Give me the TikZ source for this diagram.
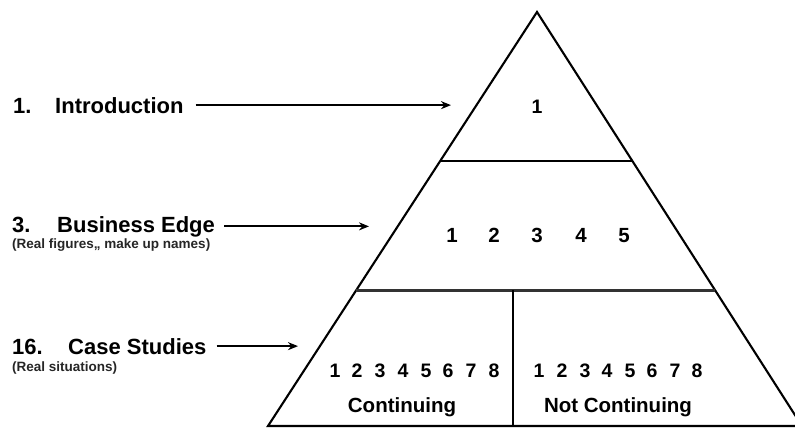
\documentclass[tikz,border=0pt]{standalone}
\usepackage{fontspec}
\setmainfont{Liberation Sans}
\usetikzlibrary{arrows.meta,calc}

\tikzset{
  edge/.style={line width=2.1pt, line join=miter},
  layer/.style={line width=2pt},
  thicklayer/.style={line width=3pt, draw=black!80},
  pointer/.style={line width=2pt, -{Stealth[length=10pt,width=8pt]}},
  title/.style={inner sep=0pt, anchor=base west, font=\fontsize{22}{24}\selectfont\bfseries},
  note/.style={inner sep=0pt, anchor=base west, font=\fontsize{13.5}{15}\selectfont\bfseries, text=black!85},
  digit/.style={inner sep=0pt, anchor=base, font=\fontsize{19.5}{21}\selectfont\bfseries},
  bigdigit/.style={inner sep=0pt, anchor=base, font=\fontsize{20.5}{22}\selectfont\bfseries},
  caption/.style={inner sep=0pt, anchor=base, font=\fontsize{20.5}{22}\selectfont\bfseries}
}

\begin{document}
\begin{tikzpicture}[x=1pt, y=-1pt]
  \useasboundingbox (0,0) rectangle (795,429);
  \clip (0,0) rectangle (795,429);

  % pyramid corners
  \coordinate (apex) at (537,12);
  \coordinate (bl) at (268,426);
  \coordinate (br) at (802,426);

  % layer boundaries on the sloping sides
  \coordinate (l1) at ($(apex)!0.36!(bl)$);
  \coordinate (r1) at ($(apex)!0.36!(br)$);
  \coordinate (l2) at ($(apex)!0.6715!(bl)$);
  \coordinate (r2) at ($(apex)!0.6715!(br)$);
  \coordinate (splittop) at (513,290);
  \coordinate (splitbot) at (513,426);

  % outline
  \draw[edge] (bl) -- (apex) -- (br) -- cycle;
  \draw[layer] (l1) -- (r1);
  \draw[thicklayer] (l2) -- (r2);
  \draw[layer] (splittop) -- (splitbot);

  % contents of the top layer
  \node[digit] (top1) at (537,113) {1};

  % contents of the middle layer
  \foreach \i/\x in {1/452,2/494,3/537,4/581,5/624}
    \node[bigdigit] (mid\i) at (\x,242) {\i};

  % contents of the bottom layer
  \foreach \i/\x in {1/335,2/357,3/380,4/403,5/426,6/448,7/471,8/494}
    \node[digit] (cl\i) at (\x,377) {\i};
  \foreach \i/\x in {1/539,2/562,3/585,4/607,5/630,6/652,7/675,8/697}
    \node[digit] (nc\i) at (\x,377) {\i};
  \node[caption] (cont) at (402,412) {Continuing};
  \node[caption] (notcont) at (618,412) {Not Continuing};

  % labels on the left
  \node[title] (n1) at (13,113) {1.};
  \node[title] (intro) at (55,113) {Introduction};
  \node[title] (n3) at (12,232) {3.};
  \node[title] (biz) at (57,232) {Business Edge};
  \node[note] (bizsub) at (12,248) {(Real figures,, make up names)};
  \node[title] (n16) at (12,354) {16.};
  \node[title] (cases) at (68,354) {Case Studies};
  \node[note] (casesub) at (12,371) {(Real situations)};

  % arrow tips
  \coordinate (tipintro) at (451,106);
  \coordinate (tipbiz) at (369,224);
  \coordinate (tipcases) at (298,349);

  \draw[pointer] ([xshift=12pt]intro.east) -- (intro.east -| tipintro);
  \draw[pointer] ([xshift=9pt]biz.east) -- (biz.east -| tipbiz);
  \draw[pointer] ([xshift=10pt]cases.east) -- (cases.east -| tipcases);
\end{tikzpicture}
\end{document}
